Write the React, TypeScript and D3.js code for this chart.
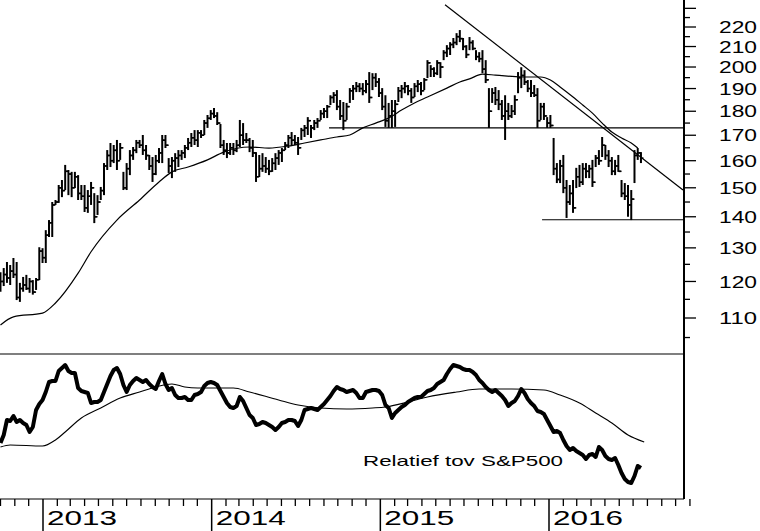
import React from "react";
import * as d3 from "d3";

// ---------- DATA ----------
// weekly bars starting week of 1 Oct 2012
const startDate = new Date(2012, 9, 1);

const highs = [
  122.7,123.9,125.7,124.8,126.9,125.7,119.6,121.3,121.9,121.0,
  120.4,121.0,130.2,129.9,135.6,138.9,145.0,145.7,151.0,152.8,
  158.4,156.5,155.8,155.8,154.6,151.0,151.0,149.2,152.1,148.1,
  147.4,150.3,159.1,164.1,166.9,166.1,168.1,166.9,155.8,159.1,
  164.1,165.3,168.1,168.1,170.1,166.1,162.2,161.4,162.2,164.9,
  170.1,170.1,161.0,161.4,162.9,164.1,164.1,166.1,168.9,170.9,
  172.1,172.1,172.1,176.3,178.4,180.5,181.4,179.6,174.6,168.1,
  166.9,166.9,166.9,168.1,176.3,175.0,170.9,168.9,168.1,163.3,
  162.2,162.9,161.4,160.3,161.0,162.9,164.1,164.9,167.3,170.1,
  171.3,170.1,169.3,173.0,174.2,177.5,174.2,176.3,177.1,180.5,
  181.4,182.7,187.0,188.4,189.3,184.9,184.0,183.6,190.2,191.6,
  193.0,192.5,192.5,193.9,197.6,197.1,197.1,194.8,190.2,187.0,
  183.6,184.9,184.9,190.7,191.6,193.0,191.6,190.2,192.5,193.9,
  193.0,194.8,203.3,200.9,199.9,203.3,202.3,208.2,210.7,212.2,
  214.3,216.8,218.4,214.3,210.7,214.8,213.2,208.2,207.2,208.2,
  203.3,190.2,190.2,190.7,189.3,184.9,187.0,183.6,182.7,187.0,
  197.6,199.9,198.5,193.9,193.9,191.6,190.2,183.6,183.6,177.5,
  178.4,168.9,159.1,160.3,162.2,152.8,151.0,152.8,157.3,158.4,
  159.1,159.1,158.4,160.3,162.2,164.1,169.3,166.1,164.1,161.4,
  160.3,162.2,152.8,151.7,151.0,149.2,164.1,164.9,163.3,
];

const lows = [
  117.1,118.7,119.6,119.0,121.0,114.8,114.3,117.1,117.6,116.8,
  116.3,117.6,120.4,125.4,125.4,133.4,133.4,144.0,144.7,146.7,
  149.2,147.4,146.7,149.9,145.7,145.7,141.6,141.3,144.0,137.9,
  140.6,145.7,147.4,156.5,157.6,159.1,156.5,160.3,149.2,149.2,
  154.6,160.3,162.9,164.9,162.2,160.3,156.5,152.1,154.6,159.1,
  159.1,164.9,155.4,153.5,155.8,157.6,160.3,161.0,164.1,165.3,
  166.1,165.3,168.9,170.1,173.0,176.3,177.1,174.2,164.9,162.2,
  161.0,162.2,162.2,163.3,165.3,166.1,166.9,163.3,161.4,152.1,
  153.9,155.8,155.4,154.6,155.8,156.5,158.4,159.5,164.1,164.9,
  165.7,166.1,162.2,168.1,169.3,170.1,168.9,172.1,173.0,176.3,
  177.1,177.1,182.7,183.6,180.5,176.3,172.1,176.3,183.6,184.9,
  188.4,188.4,187.0,187.9,183.6,189.3,190.7,186.2,180.5,173.4,
  173.0,173.0,173.4,184.0,185.7,187.9,187.0,183.6,186.2,188.4,
  187.0,189.3,194.8,195.3,195.3,196.2,194.8,203.3,204.8,205.8,
  209.2,210.7,212.2,208.2,204.3,208.2,208.2,203.3,202.3,197.1,
  192.5,173.0,183.6,182.7,180.5,176.3,168.1,176.3,177.1,178.4,
  187.9,190.2,191.6,188.4,186.2,186.2,173.0,176.3,176.3,173.0,
  173.0,154.6,151.7,151.7,148.1,139.6,144.0,141.3,149.9,150.3,
  151.0,153.5,153.5,150.3,157.6,158.4,161.4,160.3,157.6,154.6,
  154.6,155.8,146.7,145.7,140.0,138.9,151.7,160.3,159.1,
];

const closes = [
  120,122,121,123,122,115.5,118,119,118,120,
  117,120.5,129,127,134,138,144,145,150,149,
  156,155,150,154,148,147,143,147,150,140,
  145,149,158,162,160,164,160,165,150,157,
  162,164,167,166,164,162,158,155,160,163,
  168,166,158,160,161,162,163,165,167,169,
  168,171,170,175,177,179,178,175,166,164,
  163,165,164,166,170,168,168,165,163,154,
  157,158,157,156,159,161,163,164,166,169,
  168,167,165,172,173,176,173,175,176,179,
  180,182,186,187,182,178,176,182,189,190,
  191,190,189,192,186,195,193,188,182,176,
  178,180,183,189,190,191,189,186,191,192,
  189,194,202,199,197,202,200,207,209,211,
  212,215,214,210,206,212,209,205,204,199,
  194,180,188,185,183,178,180,178,180,185,
  195,196,193,190,188,187,176,182,178,175,
  174,157,153,158,150,145,148,143,154,152,
  157,156,157,152,161,160,166,162,160,156,
  158,156,148,147,144,146,162,163,161,
];

// moving average of price: [week, price]
const priceMA: [number, number][] = [
  [0,108.2],[4,110.3],[13,111.3],[17,114.0],[24,122.4],[28,128.8],[36,138.9],
  [43,145.7],[49,152.1],[53,155.8],[58,157.6],[64,160.3],[69,163.3],[77,165.3],
  [83,164.9],[89,165.7],[94,166.9],[99,168.1],[104,169.3],[108,170.1],[112,173.0],
  [116,175.0],[120,177.1],[124,180.5],[128,183.6],[132,186.2],[138,190.2],
  [142,193.0],[145,194.4],[149,196.6],[153,196.2],[161,195.3],[167,195.3],
  [170,193.9],[173,190.7],[177,186.2],[180,182.7],[183,179.2],[186,175.0],
  [189,171.3],[192,168.9],[195,166.9],[197,164.9],
];

// relative strength vs S&P500 (index units), weekly
const relative = [
  57,65,80,79,84,78,80,77,75,68,
  73,90,96,100,108,118,119,119,129,132,
  135,129,127,127,112,109,108,107,97,98,
  98,100,108,116,124,130,132,126,115,108,
  115,119,122,120,118,120,116,113,111,119,
  126,116,110,112,105,102,102,103,100,100,
  105,106,108,114,117,118,117,115,109,103,
  97,93,92,94,103,99,92,85,82,75,
  76,78,77,75,73,70,73,77,78,80,
  80,79,74,80,90,91,92,91,90,93,
  96,100,104,109,113,111,110,108,109,110,
  107,102,102,108,109,110,110,109,105,95,
  92,82,87,90,93,95,98,100,102,103,
  103,106,109,110,112,116,118,120,126,131,
  135,134,133,131,130,130,128,125,120,117,
  113,110,108,110,107,104,100,94,97,99,
  104,111,107,101,97,94,89,88,86,80,
  74,68,69,67,60,54,50,52,49,47,
  45,41,45,46,43,53,50,44,41,40,
  42,35,27,21,18,17,24,34,32,
];

const relativeMA: [number, number][] = [
  [0,53],[3,55],[13,54],[17,60],[20,68],[25,82],[31,92],[37,102],[43,108],
  [48,113],[53,116],[57,113],[61,112],[67,112],[72,112],[77,108],[86,100],
  [92,95],[99,92],[107,91],[115,92],[119,93],[126,98],[132,103],[141,108],
  [148,111],[158,111],[168,110],[173,105],[179,97],[184,87],[189,77],[194,65],[199,58],
];

// trend lines: [date, price]
const downTrend: [Date, number][] = [[new Date(2015, 4, 21), 232], [new Date(2016, 9, 17), 149.2]];
const resistance: [Date, number][] = [[new Date(2014, 8, 12), 173], [new Date(2016, 9, 20), 173]];
const support: [Date, number][] = [[new Date(2015, 11, 17), 139], [new Date(2016, 9, 20), 139]];

const priceTicks = d3.range(105, 231, 5);
const priceLabels = d3.range(110, 221, 10);
const years = [2013, 2014, 2015, 2016];
const legendText = "Relatief tov S&P500";

// ---------- CHART ----------
const W = 760, H = 531;
const axisX = 684;
const sepY = 354;
const baseY = 499;

const weekDate = (i: number) => new Date(2012, 9, 1 + 7 * i);

export default function App() {
  const x = d3.scaleTime()
    .domain([new Date(2013, 0, 1), new Date(2016, 0, 1)])
    .range([43, 549]);
  const y = d3.scaleLog().domain([110, 220]).range([318, 27]);
  const yr = d3.scaleLinear().domain([0, 150]).range([500, 350]);

  const bars = highs.map((h, i) => ({
    x: x(weekDate(i)),
    h, l: lows[i], c: closes[i],
    o: i > 0 ? closes[i - 1] : closes[i],
  }));

  const maLine = d3.line<[number, number]>()
    .x(d => x(weekDate(d[0])))
    .y(d => y(d[1]))
    .curve(d3.curveMonotoneX);

  const relLine = d3.line<number>()
    .x((_, i) => x(weekDate(i)))
    .y(d => yr(d))
    .curve(d3.curveLinear);

  const relMALine = d3.line<[number, number]>()
    .x(d => x(weekDate(d[0])))
    .y(d => yr(d[1]))
    .curve(d3.curveMonotoneX);

  const trend = (pts: [Date, number][]) => {
    const [a, b] = pts;
    return { x1: x(a[0]), y1: y(a[1]), x2: Math.min(axisX, x(b[0])), y2: y(b[1]) };
  };

  const months = d3.timeMonth.range(new Date(2012, 9, 1), new Date(2016, 10, 2))
    .filter(d => d.getMonth() !== 0);

  const font = "'Liberation Sans', Arial, sans-serif";
  const dt = trend(downTrend), rs = trend(resistance), sp = trend(support);

  return (
    <svg width={W} height={H} style={{ position: "absolute", left: 0, top: 0, background: "#fff" }}
      fontFamily={font}>
      <rect x={0} y={0} width={W} height={H} fill="#fff" />
      {/* price MA */}
      <path d={maLine(priceMA) || ""} fill="none" stroke="#000" strokeWidth={1.2} />
      {/* trend lines */}
      <line {...dt} stroke="#000" strokeWidth={1.2} />
      <line {...rs} stroke="#000" strokeWidth={1.2} />
      <line {...sp} stroke="#000" strokeWidth={1.2} />
      {/* OHLC bars */}
      {bars.map((b, i) => (
        <g key={i} stroke="#000">
          <line x1={b.x} x2={b.x} y1={y(b.h)} y2={y(b.l)} strokeWidth={2} />
          <line x1={b.x - 2.5} x2={b.x} y1={y(b.o)} y2={y(b.o)} strokeWidth={1.5} />
          <line x1={b.x} x2={b.x + 2.5} y1={y(b.c)} y2={y(b.c)} strokeWidth={1.5} />
        </g>
      ))}
      {/* separator */}
      <line x1={0} x2={axisX} y1={sepY} y2={sepY} stroke="#000" strokeWidth={1.2} />
      {/* relative panel */}
      <path d={relMALine(relativeMA) || ""} fill="none" stroke="#000" strokeWidth={1.1} />
      <path d={relLine(relative) || ""} fill="none" stroke="#000" strokeWidth={4} strokeLinejoin="round" />
      <text x={363} y={466} fontSize={15} textLength={200} lengthAdjust="spacingAndGlyphs" fill="#000">
        {legendText}
      </text>
      {/* right axis */}
      <line x1={axisX} x2={axisX} y1={0} y2={baseY} stroke="#000" strokeWidth={2} />
      {priceTicks.map(v => (
        <line key={v} x1={axisX} x2={axisX + (v % 10 === 0 ? 12 : 6)} y1={y(v)} y2={y(v)}
          stroke="#000" strokeWidth={1.3} />
      ))}
      {priceLabels.map(v => (
        <text key={v} x={719} y={y(v)} dy="0.36em" fontSize={17} textLength={38}
          lengthAdjust="spacingAndGlyphs" fill="#000">{v}</text>
      ))}
      {/* bottom axis */}
      <line x1={0} x2={axisX} y1={baseY} y2={baseY} stroke="#000" strokeWidth={1.2} />
      {months.map((m, i) => (
        <line key={i} x1={x(m)} x2={x(m)} y1={baseY} y2={baseY + 7} stroke="#000" strokeWidth={1.3} />
      ))}
      {years.map(yy => {
        const xx = x(new Date(yy, 0, 1));
        return (
          <g key={yy}>
            <line x1={xx} x2={xx} y1={baseY} y2={H} stroke="#000" strokeWidth={1.5} />
            <text x={xx + 4} y={525} fontSize={20} textLength={70} lengthAdjust="spacingAndGlyphs" fill="#000">
              {yy}
            </text>
          </g>
        );
      })}
    </svg>
  );
}
